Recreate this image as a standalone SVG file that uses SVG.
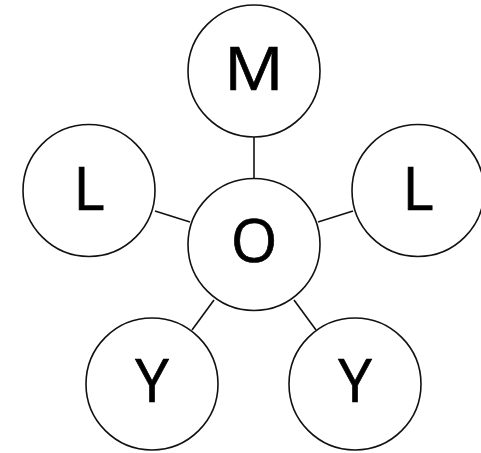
<svg xmlns="http://www.w3.org/2000/svg" width="481" height="453" viewBox="0 0 481 453">
<style>
.n{fill:#fff;stroke:#111;stroke-width:1.6}
.t{font-family:"Open Sans","Liberation Sans",sans-serif;font-size:60px;fill:#000;stroke:#000;stroke-width:0.7;text-anchor:middle}
.c{stroke:#111;stroke-width:1.6;fill:none}
</style>
<rect width="481" height="453" fill="#fff"/>
<g id="connectors">
<line class="c" x1="254" y1="137" x2="254" y2="178"/>
<line class="c" x1="155" y1="211" x2="190" y2="222"/>
<line class="c" x1="318" y1="222" x2="353" y2="211"/>
<line class="c" x1="192" y1="330" x2="214" y2="300"/>
<line class="c" x1="294" y1="300" x2="316" y2="330"/>
</g>
<g id="M"><circle class="n" cx="254" cy="71" r="66"/><text class="t" x="254" y="90" transform="translate(254 0) scale(1.1 1) translate(-254 0)">M</text></g>
<g id="O"><circle class="n" cx="254" cy="244.5" r="66"/><text class="t" x="254" y="262">O</text></g>
<g id="L1"><circle class="n" cx="89" cy="190.5" r="66"/><text class="t" x="89" y="210">L</text></g>
<g id="L2"><circle class="n" cx="418" cy="190.5" r="66"/><text class="t" x="418" y="210">L</text></g>
<g id="Y1"><circle class="n" cx="152" cy="384" r="66"/><text class="t" x="152" y="402">Y</text></g>
<g id="Y2"><circle class="n" cx="355" cy="384" r="66"/><text class="t" x="355" y="402">Y</text></g>
</svg>
